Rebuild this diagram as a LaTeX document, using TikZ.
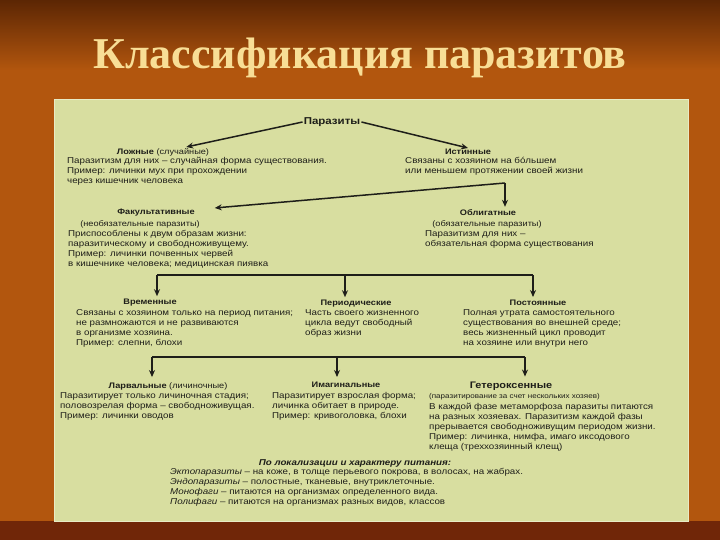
\documentclass[tikz,border=0pt]{standalone}
\usepackage{fontspec}
\setmainfont{Liberation Serif}
\newfontfamily\dgfont[FakeStretch=1.15]{Liberation Sans}
\usetikzlibrary{arrows.meta}

\definecolor{slidetop}{RGB}{92,38,4}
\definecolor{slidemid}{RGB}{178,86,14}
\definecolor{slidebot}{RGB}{112,38,8}
\definecolor{panel}{RGB}{216,222,160}
\definecolor{titlecol}{RGB}{248,222,150}
\definecolor{ink}{RGB}{30,30,25}

\begin{document}
\begin{tikzpicture}[
  x=1pt, y=-1pt,
  head/.style={font=\dgfont\bfseries\fontsize{8}{10}\selectfont, inner sep=1pt, text=ink},
  sub/.style={font=\dgfont\fontsize{8}{10}\selectfont, inner sep=0pt, text=ink},
  body/.style={font=\dgfont\fontsize{8.5}{10}\selectfont, align=left, anchor=north west, inner sep=0pt, text=ink},
  arr/.style={-{Stealth[length=7pt,width=6pt]}, line width=1.5pt, draw=ink},
  bar/.style={line width=1.5pt, draw=ink}
]
\useasboundingbox (0,0) rectangle (720,540);

% slide background
\fill[slidemid] (0,0) rectangle (720,540);
\shade[top color=slidetop, bottom color=slidemid] (0,0) rectangle (720,70);
\fill[slidebot] (0,521) rectangle (720,540);
\fill[panel, draw=panel!60!white, line width=0.8pt] (54,99) rectangle (688,521);

% title
\node[font=\bfseries\fontsize{44}{48}\selectfont, text=titlecol] (title) at (360,58) {Классификация паразитов};

% top level
\node[head, font=\dgfont\bfseries\fontsize{10}{12}\selectfont] (par) at (332,122) {Паразиты};

\node[head] (lozh) at (163,152) {Ложные \mdseries(случайные)};
\node[body] (lozh-t) at (67,157) {Паразитизм для них – случайная форма существования.\\Пример: личинки мух при прохождении\\через кишечник человека};

\node[head] (ist) at (468,152) {Истинные};
\node[body] (ist-t) at (405,157) {Связаны с хозяином на бóльшем\\или меньшем протяжении своей жизни};

\draw[arr] (par.west) -- (lozh);
\draw[arr] (par.east) -- (ist.north);

% true parasites
\coordinate (fork) at (505,183);

\node[head] (fak) at (156,213) {Факультативные};
\node[sub] (fak-s) at (140,224) {(необязательные паразиты)};
\node[body] (fak-t) at (68,230) {Приспособлены к двум образам жизни:\\паразитическому и свободноживущему.\\Пример: личинки почвенных червей\\в кишечнике человека; медицинская пиявка};

\node[head] (obl) at (488,213) {Облигатные};
\node[sub] (obl-s) at (487,224) {(обязательные паразиты)};
\node[body] (obl-t) at (425,230) {Паразитизм для них –\\обязательная форма существования};

\draw[arr, shorten >=19pt] (fork) -- (fak);
\draw[arr, shorten >=2pt] (fork) -- (fork |- obl.north);

% by duration of contact
\coordinate (b1l) at (157,275);
\coordinate (b1m) at (345,275);
\coordinate (b1r) at (533,275);

\node[head] (vrem) at (150,303) {Временные};
\node[body] (vrem-t) at (76,309) {Связаны с хозяином только на период питания;\\не размножаются и не развиваются\\в организме хозяина.\\Пример: слепни, блохи};

\node[head] (per) at (356,304) {Периодические};
\node[body] (per-t) at (305,309) {Часть своего жизненного\\цикла ведут свободный\\образ жизни};

\node[head] (post) at (538,303) {Постоянные};
\node[body] (post-t) at (463,309) {Полная утрата самостоятельного\\существования во внешней среде;\\весь жизненный цикл проводит\\на хозяине или внутри него};

\draw[bar] (b1l) -- (b1r);
\draw[arr, shorten >=2pt] (b1l) -- (b1l |- vrem.north);
\draw[arr, shorten >=2pt] (b1m) -- (b1m |- per.north);
\draw[arr, shorten >=2pt] (b1r) -- (b1r |- post.north);

% by stage of development
\coordinate (b2l) at (152,357);
\coordinate (b2m) at (337,357);
\coordinate (b2r) at (525,357);

\node[head] (larv) at (168,386) {Ларвальные \mdseries(личиночные)};
\node[body] (larv-t) at (60,392) {Паразитирует только личиночная стадия;\\половозрелая форма – свободноживущая.\\Пример: личинки оводов};

\node[head] (imag) at (346,385) {Имагинальные};
\node[body] (imag-t) at (272,392) {Паразитирует взрослая форма;\\личинка обитает в природе.\\Пример: кривоголовка, блохи};

\node[head, font=\dgfont\bfseries\fontsize{9.5}{11}\selectfont] (het) at (511,386) {Гетероксенные};
\node[sub, anchor=west, font=\dgfont\fontsize{7}{9}\selectfont] (het-s) at (429,397) {(паразитирование за счет нескольких хозяев)};
\node[body] (het-t) at (429,403) {В каждой фазе метаморфоза паразиты питаются\\на разных хозяевах. Паразитизм каждой фазы\\прерывается свободноживущим периодом жизни.\\Пример: личинка, нимфа, имаго иксодового\\клеща (треххозяинный клещ)};

\draw[bar] (b2l) -- (b2r);
\draw[arr, shorten >=4pt] (b2l) -- (b2l |- larv.north);
\draw[arr, shorten >=4pt] (b2m) -- (b2m |- imag.north);
\draw[arr, shorten >=4pt] (b2r) -- (b2r |- het.north);

% by localisation and feeding
\node[head, font=\dgfont\bfseries\itshape\fontsize{8.5}{10}\selectfont] (lok) at (355,463) {По локализации и характеру питания:};
\node[body] (lok-t) at (170,468) {\textit{Эктопаразиты} – на коже, в толще перьевого покрова, в волосах, на жабрах.\\\textit{Эндопаразиты} – полостные, тканевые, внутриклеточные.\\\textit{Монофаги} – питаются на организмах определенного вида.\\\textit{Полифаги} – питаются на организмах разных видов, классов};

\end{tikzpicture}
\end{document}
